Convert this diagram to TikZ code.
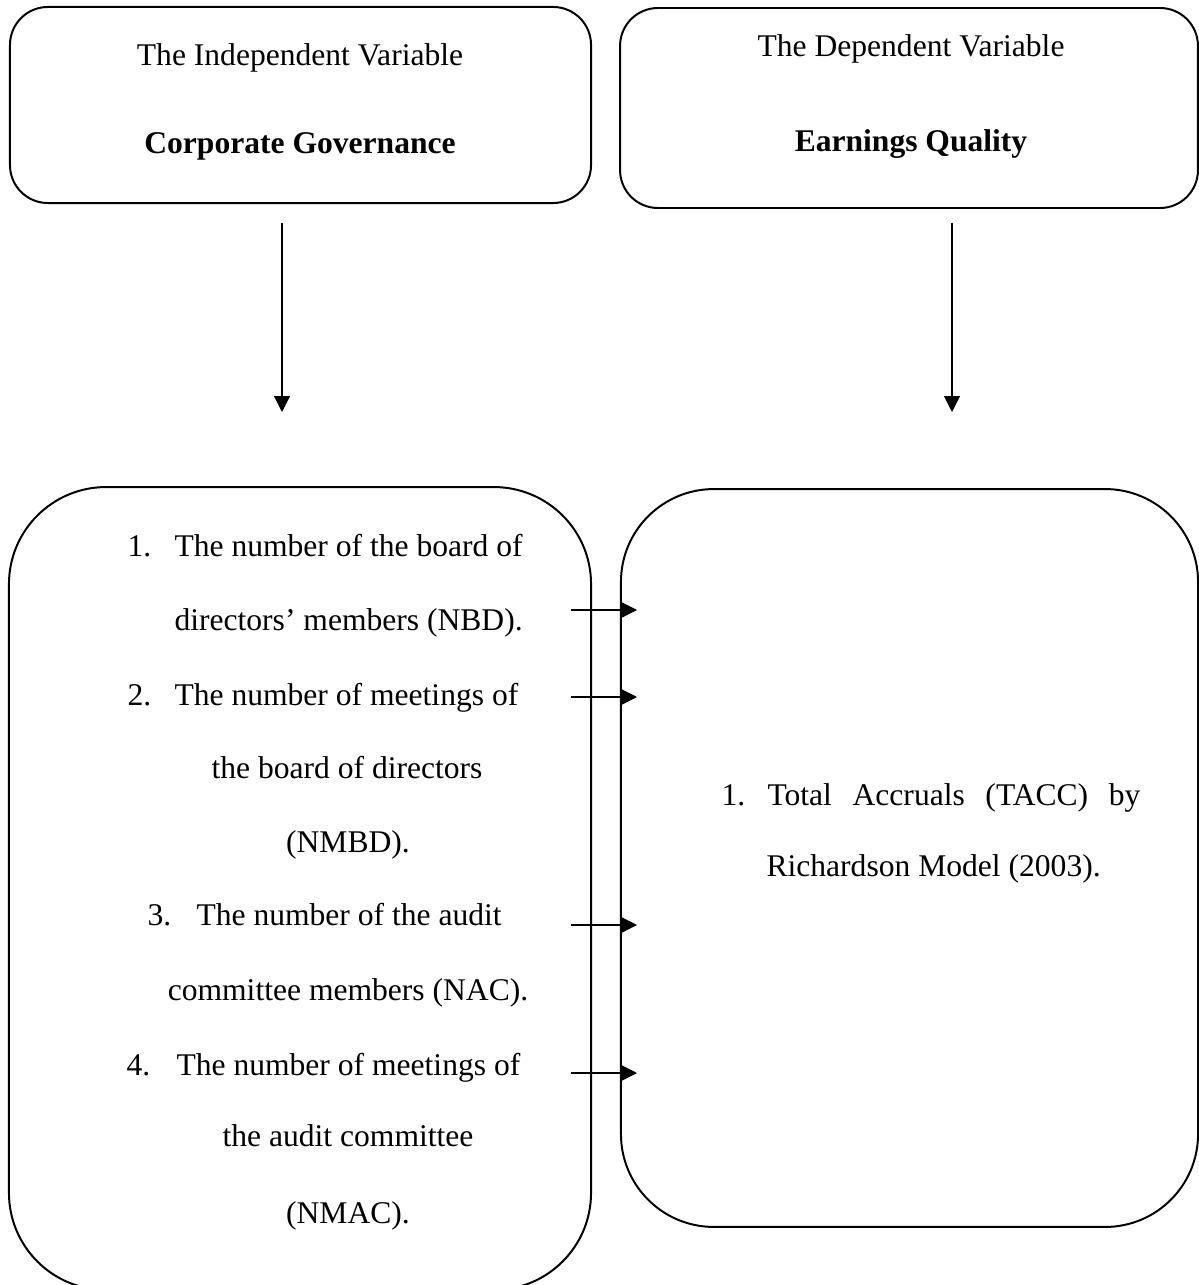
\documentclass[tikz,border=0pt]{standalone}
\usepackage{fontspec}
\setmainfont{Liberation Serif}
\usetikzlibrary{arrows.meta}
\tikzset{
  boxshape/.style={draw, line width=0.75pt, rectangle, inner sep=0pt},
  txt/.style={inner sep=0pt, font=\fontsize{12pt}{14pt}\selectfont},
  arr/.style={line width=0.45pt, -{Triangle[width=6pt,length=6pt]}}
}
\begin{document}
\begin{tikzpicture}[x=0.38pt, y=-0.38pt]
\useasboundingbox (0,0) rectangle (1199,1285);
% boxes
\node[boxshape, rounded corners=14.4pt, minimum width=220.8pt, minimum height=74.5pt] (tl) at (300.5,105) {};
\node[boxshape, rounded corners=14.4pt, minimum width=219.6pt, minimum height=76pt] (tr) at (909,108) {};
\node[boxshape, rounded corners=36.9pt, minimum width=221.2pt, minimum height=305.1pt] (bl) at (300,888.5) {};
\node[boxshape, rounded corners=35.3pt, minimum width=219.3pt, minimum height=280.4pt] (br) at (909.5,858) {};
% headers
\node[txt, anchor=base] (h1) at (300,66) {The Independent Variable};
\node[txt, anchor=base] (h1b) at (300,154) {\bfseries Corporate Governance};
\node[txt, anchor=base] (h2) at (911,57) {The Dependent Variable};
\node[txt, anchor=base] (h2b) at (911,152) {\bfseries Earnings Quality};
% left list
\node[txt, anchor=base west] (n1) at (127,556) {1.};
\node[txt, anchor=base west] (t1) at (174,556) {The number of the board of};
\node[txt, anchor=base west] (t1b) at (174,630) {directors’ members (NBD).};
\node[txt, anchor=base west] (n2) at (127,705) {2.};
\node[txt, anchor=base west] (t2) at (174,705) {The number of meetings of};
\node[txt, anchor=base] (t2b) at (347,778) {the board of directors};
\node[txt, anchor=base] (t2c) at (348,852) {(NMBD).};
\node[txt, anchor=base west] (n3) at (147,925) {3.};
\node[txt, anchor=base west] (t3) at (196,925) {The number of the audit};
\node[txt, anchor=base] (t3b) at (348,1000) {committee members (NAC).};
\node[txt, anchor=base west] (n4) at (126,1075) {4.};
\node[txt, anchor=base west] (t4) at (176,1075) {The number of meetings of};
\node[txt, anchor=base] (t4b) at (348,1146) {the audit committee};
\node[txt, anchor=base] (t4c) at (348,1223) {(NMAC).};
% right list
\node[txt, anchor=base west] (rn1) at (721,805) {1.};
\node[txt, anchor=base west] (r1) at (767,805) {\makebox[141.7pt][s]{Total Accruals (TACC) by}};
\node[txt, anchor=base west] (r2) at (766,876) {Richardson Model (2003).};
% connector end points
\coordinate (v1s) at (282,223);
\coordinate (v1e) at (282,412);
\coordinate (v2s) at (952,223);
\coordinate (v2e) at (952,412);
\coordinate (a1s) at (571,610);
\coordinate (a1e) at (637,610);
\coordinate (a2s) at (571,697);
\coordinate (a2e) at (637,697);
\coordinate (a3s) at (571,925);
\coordinate (a3e) at (637,925);
\coordinate (a4s) at (571,1073);
\coordinate (a4e) at (637,1073);
% connectors
\draw[arr] (v1s) -- (v1e);
\draw[arr] (v2s) -- (v2e);
\draw[arr] (a1s) -- (a1e);
\draw[arr] (a2s) -- (a2e);
\draw[arr] (a3s) -- (a3e);
\draw[arr] (a4s) -- (a4e);
\end{tikzpicture}
\end{document}
